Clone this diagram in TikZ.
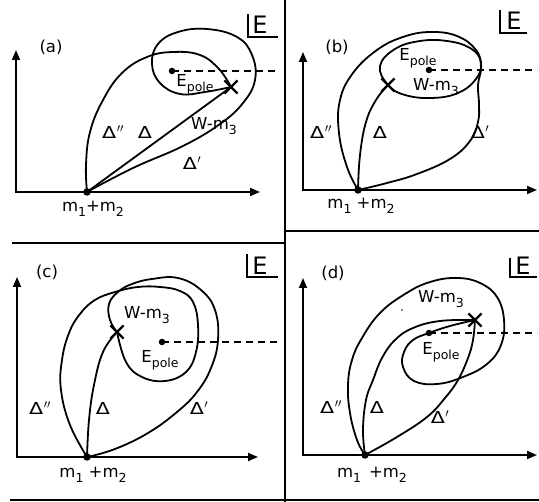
\documentclass[tikz,border=0pt]{standalone}
\usepackage{fontspec}
\setmainfont{DejaVu Sans}
\usetikzlibrary{arrows.meta,shapes.misc}
\newcommand{\lblfont}{\fontsize{16.5}{16.5}\selectfont}
\newcommand{\bigEfont}{\fontsize{24}{24}\selectfont}
\newcommand{\lsub}[1]{\raisebox{-0.55ex}{\fontsize{12.5}{12.5}\selectfont #1}}
\newcommand{\dlt}{\scalebox{1.25}[1]{Δ}}
\newcommand{\dltpp}{\dlt\kern0.5pt$^{\prime\prime}$}
\newcommand{\dltp}{\dlt\kern0.5pt$^{\prime}$}
\tikzset{
  curve/.style={line width=1.8pt, line join=round, line cap=round},
  axis/.style={line width=1.8pt, {Triangle[length=10pt,width=8pt]}-{Triangle[length=10pt,width=8pt]}},
  lab/.style={font=\lblfont, inner sep=0pt},
  bigE/.style={font=\bigEfont, inner sep=0pt},
  cutline/.style={line width=1.5pt, dash pattern=on 7pt off 5pt},
  rulel/.style={line width=1.8pt},
  xm/.style={draw, cross out, minimum size=11pt, inner sep=0pt, line width=2.2pt},
  dotm/.style={circle, fill, inner sep=0pt, minimum size=7.5pt},
  pdot/.style={circle, fill, inner sep=0pt, minimum size=6.5pt},
}
\begin{document}
\begin{tikzpicture}[x=1pt,y=-1pt]
\fill[white] (0,0) rectangle (539,502);
\useasboundingbox (0,0) rectangle (539,502);

% dividers
\draw[rulel] (285,0) -- (285,502);
\draw[rulel] (12,243) -- (285,243);
\draw[rulel] (285,231) -- (539,231);
\draw[rulel] (10,500) -- (539,500);

% ================= (a)
\draw[axis] (16,50) |- (260,192);
\node[dotm] (Aa) at (87,192) {};
\node[pdot] (Pa) at (172,71) {};
\node[xm] (Xa) at (231,87) {};
\coordinate (Ca) at (279,71);
\draw[cutline] (Pa.center) -- (Ca);
\draw[curve] plot[smooth, tension=0.7] coordinates {(Aa.center) (86,165) (90,132) (103,100) (122,73) (147,57) (173,52) (200,55) (219,69) (Xa.center)};
\draw[curve] (Aa.center) -- (Xa.center);
\draw[curve] plot[smooth, tension=0.7] coordinates {(Aa.center) (133,168) (183,146) (220,124) (243,103) (255,80) (252,55) (237,37) (207,29) (178,32) (158,44) (152,64) (160,83) (180,94) (205,92) (Xa.center)};
\draw[rulel] (248,14) |- (278,37);
\node[bigE] (Ea) at (260,25) {E};
\node[lab] (La) at (51,47) {(a)};
\node[lab] (EPa) at (195,84) {E\lsub{pole}};
\node[lab] (Wa) at (214,126) {W-m\lsub{3}};
\node[lab] (D2a) at (113,132) {\dltpp};
\node[lab] (D0a) at (145,132) {\dlt};
\node[lab] (D1a) at (192,163) {\dltp};
\node[lab] (Ma) at (93,209) {m\lsub{1}+m\lsub{2}};

% ================= (b)
\draw[axis] (303,52) |- (537,190);
\node[dotm] (Ab) at (358,190) {};
\node[pdot] (Pb) at (429,70) {};
\node[xm] (Xb) at (388,85) {};
\coordinate (Cb) at (537,70);
\draw[cutline] (Pb.center) -- (Cb);
\draw[curve] plot[smooth, tension=0.7] coordinates {(Ab.center) (347,167) (339,133) (340,100) (353,73) (377,50) (403,37) (430,32) (457,36) (476,50) (481,67) (478,85) (479,104) (478,122) (470,141) (450,159) (417,174) (387,183) (Ab.center)};
\draw[curve] plot[smooth cycle, tension=0.7] coordinates {(Xb.center) (380,66) (395,49) (420,41) (447,41) (470,48) (481,62) (476,79) (458,93) (432,98) (405,95)};
\draw[curve] plot[smooth, tension=0.7] coordinates {(Ab.center) (360,155) (366,122) (376,100) (Xb.center)};
\draw[rulel] (500,10) |- (527,33);
\node[bigE] (Eb) at (514,21) {E};
\node[lab] (Lb) at (337,47) {(b)};
\node[lab] (EPb) at (418,58) {E\lsub{pole}};
\node[lab] (Wb) at (436,87) {W-m\lsub{3}};
\node[lab] (D2b) at (321,132) {\dltpp};
\node[lab] (D0b) at (380,132) {\dlt};
\node[lab] (D1b) at (480,132) {\dltp};
\node[lab] (Mb) at (361,206) {m\lsub{1} +m\lsub{2}};

% ================= (c)
\draw[axis] (17,277) |- (258,457);
\node[dotm] (Ac) at (87,457) {};
\node[pdot] (Pc) at (162,342) {};
\node[xm] (Xc) at (117,332) {};
\coordinate (Cc) at (279,342);
\draw[cutline] (Pc.center) -- (Cc);
\draw[curve] plot[smooth, tension=0.7] coordinates {(Ac.center) (89,420) (94,385) (103,352) (Xc.center)};
\draw[curve] plot[smooth, tension=0.7] coordinates {(Ac.center) (70,425) (61,390) (62,360) (69,333) (80,314) (95,300) (115,292) (138,287) (160,287) (180,291) (193,302) (198,325) (196,352) (186,372) (165,381) (142,377) (126,362) (Xc.center)};
\draw[curve] plot[smooth, tension=0.7] coordinates {(Ac.center) (115,449) (148,433) (177,412) (197,392) (211,368) (218,340) (215,310) (201,290) (178,278) (152,279) (132,284) (118,292) (109,304) (110,320) (Xc.center)};
\draw[rulel] (247,254) |- (278,277);
\node[bigE] (Ec) at (260,266) {E};
\node[lab] (Lc) at (47,272) {(c)};
\node[lab] (EPc) at (160,360) {E\lsub{pole}};
\node[lab] (Wc) at (147,315) {W-m\lsub{3}};
\node[lab] (D2c) at (40,408) {\dltpp};
\node[lab] (D0c) at (103,408) {\dlt};
\node[lab] (D1c) at (199,408) {\dltp};
\node[lab] (Mc) at (93,475) {m\lsub{1} +m\lsub{2}};

% ================= (d)
\draw[axis] (303,278) |- (537,455);
\node[dotm] (Ad) at (365,455) {};
\node[pdot] (Pd) at (429,333) {};
\node[xm] (Xd) at (475,320) {};
\coordinate (Cd) at (537,333);
\draw[cutline] (Pd.center) -- (Cd);
\draw[curve] plot[smooth, tension=0.7] coordinates {(Ad.center) (357,440) (350,413) (348,385) (352,360) (362,338) (380,313) (405,294) (430,282) (457,278) (480,283) (497,297) (504,320) (501,345) (487,364) (463,377) (437,384) (414,381) (403,367) (404,352) (413,340) (Pd.center) (450,326) (Xd.center)};
\draw[curve] plot[smooth, tension=0.7] coordinates {(Ad.center) (363,430) (366,400) (373,380) (382,358) (395,340) (413,328) (440,321) (Xd.center)};
\draw[curve] plot[smooth, tension=0.7] coordinates {(Ad.center) (397,437) (427,417) (445,398) (458,380) (468,358) (473,340) (Xd.center)};
\fill (402,310) circle (0.9pt);
\draw[rulel] (510,258) |- (537,277);
\node[bigE] (Ed) at (523,266) {E};
\node[lab] (Ld) at (333,273) {(d)};
\node[lab] (EPd) at (441,352) {E\lsub{pole}};
\node[lab] (Wd) at (441,299) {W-m\lsub{3}};
\node[lab] (D2d) at (331,407) {\dltpp};
\node[lab] (D0d) at (377,407) {\dlt};
\node[lab] (D1d) at (440,417) {\dltp};
\node[lab] (Md) at (372,475) {m\lsub{1}\hspace{8pt}+m\lsub{2}};
\end{tikzpicture}
\end{document}
